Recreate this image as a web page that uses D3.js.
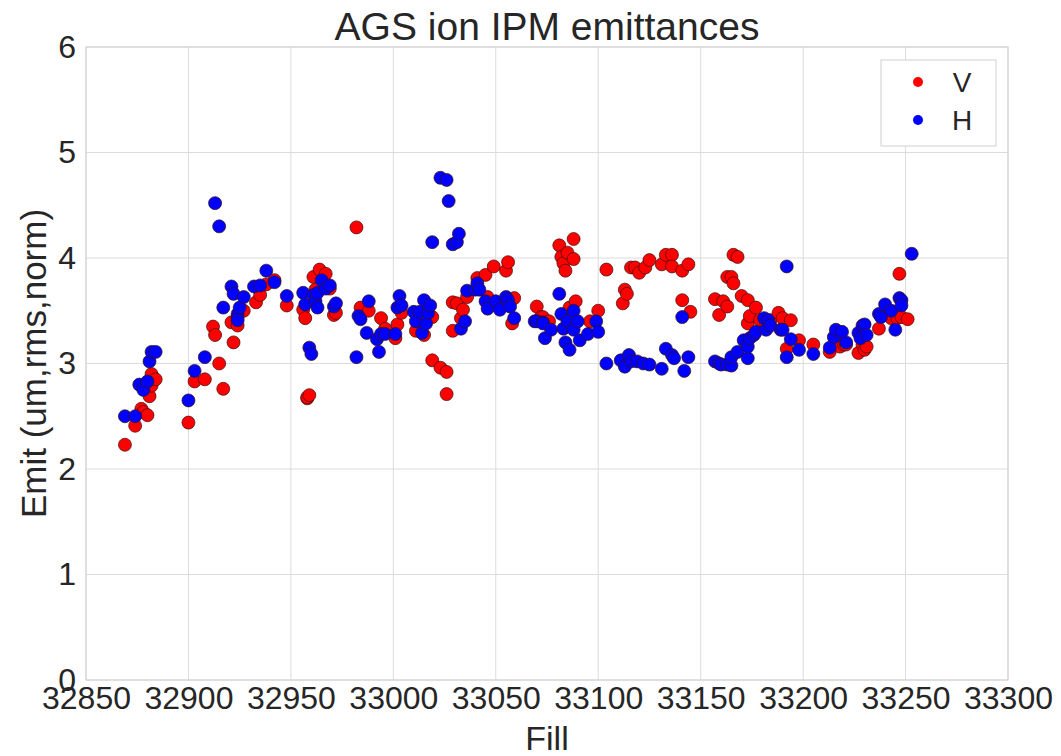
<!DOCTYPE html>
<html>
<head>
<meta charset="utf-8">
<script src="https://cdnjs.cloudflare.com/ajax/libs/d3/7.8.5/d3.min.js"></script>
<style>
  body { margin: 0; background: #fff; }
  text { font-family: "Liberation Sans", Arial, sans-serif; fill: #262626; }
</style>
</head>
<body>
<script>
// V emittance (red)
var vFill = [32869, 32874, 32877, 32878, 32880, 32881, 32882, 32882, 32884, 32900,
             32903, 32908, 32912, 32913, 32915, 32917, 32921, 32922, 32924, 32927,
             32933, 32935, 32938, 32942, 32948, 32956, 32957, 32958, 32958, 32959,
             32961, 32962, 32964, 32967, 32969, 32971, 32972, 32982, 32984, 32988,
             32994, 32996, 33001, 33002, 33004, 33011, 33015, 33019, 33019, 33023,
             33026, 33026, 33029, 33029, 33031, 33033, 33034, 33036, 33041, 33045,
             33046, 33049, 33055, 33056, 33059, 33058, 33070, 33072, 33073, 33075,
             33076, 33081, 33082, 33083, 33084, 33085, 33086, 33088, 33088, 33089,
             33096, 33100, 33104, 33112, 33113, 33114, 33116, 33118, 33120, 33123,
             33125, 33131, 33133, 33136, 33136, 33141, 33141, 33144, 33145, 33157,
             33159, 33161, 33163, 33163, 33165, 33166, 33166, 33168, 33170, 33173,
             33173, 33174, 33177, 33179, 33182, 33184, 33188, 33190, 33192, 33194,
             33198, 33205, 33213, 33216, 33218, 33220, 33221, 33227, 33229, 33230,
             33231, 33237, 33243, 33246, 33247, 33248, 33251];
var vEmit = [2.23, 2.41, 2.57, 2.54, 2.51, 2.69, 2.90, 2.79, 2.85, 2.44,
             2.83, 2.85, 3.35, 3.27, 3.00, 2.76, 3.39, 3.20, 3.36, 3.50,
             3.58, 3.65, 3.75, 3.79, 3.55, 3.51, 3.43, 2.67, 2.68, 2.70,
             3.82, 3.70, 3.89, 3.85, 3.71, 3.46, 3.48, 4.29, 3.53, 3.50,
             3.43, 3.33, 3.24, 3.37, 3.48, 3.31, 3.27, 3.44, 3.03, 2.96,
             2.92, 2.71, 3.58, 3.31, 3.57, 3.43, 3.51, 3.63, 3.81, 3.84,
             3.63, 3.92, 3.88, 3.96, 3.62, 3.38, 3.54, 3.44, 3.44, 3.38,
             3.40, 4.12, 4.01, 3.95, 3.88, 4.05, 3.53, 3.99, 4.18, 3.59,
             3.40, 3.50, 3.89, 3.57, 3.70, 3.66, 3.91, 3.91, 3.86, 3.91,
             3.98, 3.94, 4.03, 4.03, 3.92, 3.88, 3.60, 3.94, 3.49, 3.61,
             3.46, 3.59, 3.54, 3.82, 3.82, 3.76, 4.03, 4.01, 3.64, 3.60,
             3.38, 3.45, 3.53, 3.41, 3.38, 3.41, 3.48, 3.43, 3.14, 3.41,
             3.22, 3.18, 3.11, 3.22, 3.16, 3.18, 3.18, 3.10, 3.18, 3.13,
             3.16, 3.33, 3.43, 3.43, 3.85, 3.44, 3.42];

// H emittance (blue)
var hFill = [32869, 32874, 32876, 32878, 32880, 32881, 32882, 32884, 32900, 32903,
             32908, 32913, 32915, 32917, 32921, 32922, 32924, 32924, 32924, 32925,
             32927, 32932, 32935, 32938, 32942, 32948, 32956, 32957, 32959, 32960,
             32961, 32962, 32963, 32963, 32965, 32967, 32969, 32971, 32972, 32982,
             32983, 32984, 32987, 32988, 32992, 32993, 32994, 32996, 33001, 33002,
             33003, 33004, 33010, 33011, 33013, 33014, 33015, 33016, 33017, 33018,
             33019, 33023, 33026, 33027, 33029, 33031, 33032, 33033, 33035, 33036,
             33040, 33041, 33042, 33045, 33046, 33050, 33052, 33055, 33056, 33057,
             33059, 33069, 33070, 33073, 33073, 33074, 33077, 33081, 33082, 33083,
             33084, 33085, 33086, 33088, 33088, 33090, 33091, 33095, 33099, 33100,
             33104, 33111, 33113, 33115, 33116, 33119, 33122, 33125, 33131, 33133,
             33136, 33137, 33142, 33141, 33144, 33157, 33159, 33160, 33163, 33165,
             33165, 33168, 33171, 33173, 33173, 33174, 33176, 33177, 33181, 33182,
             33183, 33184, 33189, 33190, 33192, 33192, 33194, 33198, 33205, 33213,
             33215, 33216, 33219, 33221, 33227, 33228, 33229, 33230, 33231, 33237,
             33238, 33240, 33243, 33245, 33247, 33248, 33248, 33253];
var hEmit = [2.50, 2.50, 2.80, 2.75, 2.83, 3.02, 3.11, 3.11, 2.65, 2.93,
             3.06, 4.52, 4.30, 3.53, 3.73, 3.66, 3.47, 3.44, 3.41, 3.53,
             3.63, 3.73, 3.74, 3.88, 3.77, 3.64, 3.67, 3.56, 3.15, 3.09,
             3.65, 3.59, 3.67, 3.53, 3.79, 3.71, 3.74, 3.54, 3.57, 3.06,
             3.45, 3.42, 3.29, 3.59, 3.23, 3.11, 3.28, 3.28, 3.28, 3.53,
             3.64, 3.55, 3.49, 3.40, 3.49, 3.29, 3.60, 3.38, 3.48, 3.55,
             4.15, 4.76, 4.74, 4.54, 4.13, 4.15, 4.23, 3.33, 3.40, 3.69,
             3.70, 3.76, 3.70, 3.59, 3.52, 3.59, 3.51, 3.63, 3.60, 3.54,
             3.43, 3.40, 3.40, 3.39, 3.38, 3.24, 3.32, 3.66, 3.47, 3.33,
             3.20, 3.40, 3.13, 3.32, 3.50, 3.40, 3.22, 3.28, 3.40, 3.30,
             3.00, 3.03, 2.97, 3.08, 3.02, 3.02, 3.00, 2.99, 2.95, 3.14,
             3.08, 3.05, 2.93, 3.44, 3.06, 3.02, 3.00, 2.99, 2.99, 2.98,
             3.06, 3.11, 3.22, 3.05, 3.16, 3.24, 3.27, 3.30, 3.43, 3.32,
             3.41, 3.36, 3.32, 3.32, 3.92, 3.06, 3.23, 3.13, 3.09, 3.15,
             3.25, 3.32, 3.30, 3.20, 3.29, 3.24, 3.36, 3.37, 3.27, 3.47,
             3.44, 3.56, 3.50, 3.32, 3.62, 3.60, 3.55, 4.04];

var xTicks = [32850, 32900, 32950, 33000, 33050, 33100, 33150, 33200, 33250, 33300];
var yTicks = [0, 1, 2, 3, 4, 5, 6];

var width = 1061, height = 756;
var margin = { top: 47, right: 53, bottom: 76, left: 86 };
var w = width - margin.left - margin.right,
    h = height - margin.top - margin.bottom;

var svg = d3.select('body').append('svg')
    .attr('width', width)
    .attr('height', height);

var g = svg.append('g')
    .attr('transform', 'translate(' + margin.left + ',' + margin.top + ')');

var x = d3.scaleLinear().domain([32850, 33300]).range([0, w]);
var y = d3.scaleLinear().domain([0, 6]).range([h, 0]);

// grid
g.selectAll('.vgrid').data(xTicks).enter().append('line')
    .attr('x1', function (d) { return x(d); }).attr('x2', function (d) { return x(d); })
    .attr('y1', 0).attr('y2', h)
    .attr('stroke', '#dcdcdc').attr('stroke-width', 1);
g.selectAll('.hgrid').data(yTicks).enter().append('line')
    .attr('y1', function (d) { return y(d); }).attr('y2', function (d) { return y(d); })
    .attr('x1', 0).attr('x2', w)
    .attr('stroke', '#dcdcdc').attr('stroke-width', 1);

g.append('rect').attr('width', w).attr('height', h)
    .attr('fill', 'none').attr('stroke', '#d0d0d0').attr('stroke-width', 1);

// axes
var xAxis = g.append('g').attr('transform', 'translate(0,' + h + ')')
    .call(d3.axisBottom(x).tickValues(xTicks).tickFormat(d3.format('d')).tickSize(0).tickPadding(6));
var yAxis = g.append('g')
    .call(d3.axisLeft(y).tickValues(yTicks).tickFormat(d3.format('d')).tickSize(0).tickPadding(10));
[xAxis, yAxis].forEach(function (a) {
    a.select('.domain').remove();
    a.selectAll('text').attr('font-size', 32).attr('fill', '#262626')
        .attr('font-family', '"Liberation Sans", Arial, sans-serif');
});

// points: V first, H over it
function drawSeries(fills, emits, color) {
    g.append('g').selectAll('circle')
        .data(d3.range(fills.length))
        .enter().append('circle')
        .attr('cx', function (i) { return x(fills[i]); })
        .attr('cy', function (i) { return y(emits[i]); })
        .attr('r', 6.5)
        .attr('fill', color)
        .attr('stroke', '#3a1010')
        .attr('stroke-opacity', 0.7)
        .attr('stroke-width', 1);
}
drawSeries(vFill, vEmit, '#ff0000');
drawSeries(hFill, hEmit, '#0000ff');

// titles
svg.append('text').attr('x', margin.left + w / 2).attr('y', 40)
    .attr('text-anchor', 'middle').attr('font-size', 39).text('AGS ion IPM emittances');
svg.append('text').attr('x', margin.left + w / 2).attr('y', 750)
    .attr('text-anchor', 'middle').attr('font-size', 34).text('Fill');
svg.append('text')
    .attr('transform', 'translate(46,' + (margin.top + h / 2) + ') rotate(-90)')
    .attr('text-anchor', 'middle').attr('font-size', 35).text('Emit (um,rms,norm)');

// legend
var legend = svg.append('g').attr('transform', 'translate(881,60)');
legend.append('rect').attr('width', 115).attr('height', 86)
    .attr('fill', '#fff').attr('stroke', '#d0d0d0');
var legendItems = [{ label: 'V', color: '#ff0000' }, { label: 'H', color: '#0000ff' }];
legendItems.forEach(function (d, i) {
    legend.append('circle').attr('cx', 37).attr('cy', 22 + i * 38).attr('r', 5)
        .attr('fill', d.color);
    legend.append('text').attr('x', 81).attr('y', 22 + i * 38 + 10)
        .attr('text-anchor', 'middle').attr('font-size', 28).text(d.label);
});
</script>
</body>
</html>
